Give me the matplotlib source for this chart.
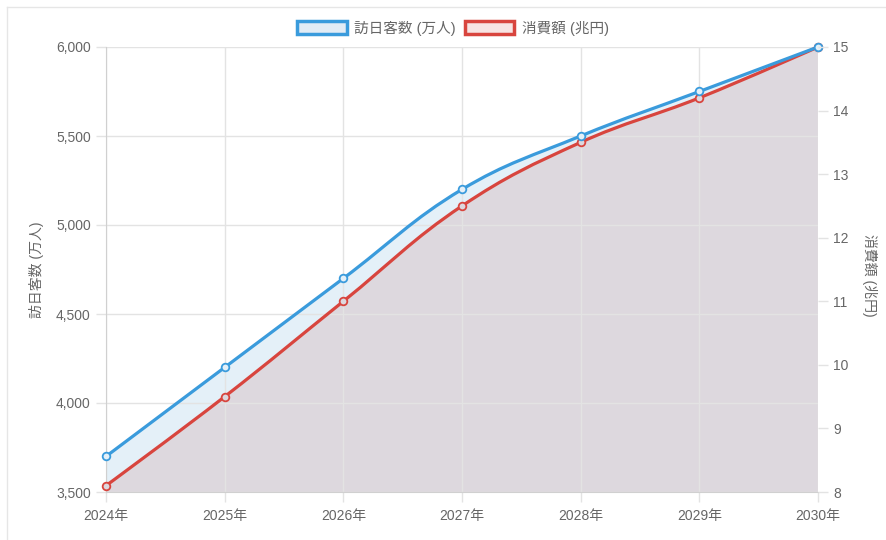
import numpy as np
import matplotlib
matplotlib.use("Agg")
import matplotlib.pyplot as plt
from matplotlib.path import Path
from matplotlib.patches import PathPatch, Patch
from matplotlib.lines import Line2D

plt.rcParams['font.family'] = ['Liberation Sans', 'Noto Sans CJK JP', 'DejaVu Sans']

years = ["2024年", "2025年", "2026年", "2027年", "2028年", "2029年", "2030年"]
visitors = [3700, 4200, 4700, 5200, 5500, 5750, 6000]          # 万人 (left axis)
spending = [8.1, 9.5, 11.0, 12.5, 13.5, 14.2, 15.0]            # 兆円 (right axis)
label_visitors = "訪日客数 (万人)"
label_spending = "消費額 (兆円)"
left_ticks = [3500, 4000, 4500, 5000, 5500, 6000]
right_ticks = [8, 9, 10, 11, 12, 13, 14, 15]

BLUE = "#3a9bdc"
RED = "#d8453e"
BLUE_FILL = "#e4f0f8"
RED_FILL = "#ddd8de"
GRID = "#e3e3e3"
TXT = "#666666"
FS = 10

W, H = 886, 540
fig = plt.figure(figsize=(W / 100, H / 100), dpi=100)
L, R, T, B = 106, 818, 47, 492
ax = fig.add_axes([L / W, 1 - B / H, (R - L) / W, (B - T) / H])
ax2 = ax.twinx()

x = np.arange(len(years))
ax.set_xlim(0, len(years) - 1)
ax.set_ylim(3500, 6000)
ax2.set_ylim(8, 15)

pw, ph = R - L, B - T


def bezier_path(xs, ys, ylo, yhi, close_bottom=False, tension=0.4):
    # Chart.js style spline, computed in pixel-scaled space
    px = np.asarray(xs, float) / (len(xs) - 1) * pw
    py = (np.asarray(ys, float) - ylo) / (yhi - ylo) * ph
    n = len(px)
    cps = []
    for i in range(n):
        cx, cy = px[i], py[i]
        if i == 0 or i == n - 1:
            cps.append(((cx, cy), (cx, cy)))
            continue
        pxp, pyp = px[i - 1], py[i - 1]
        pxn, pyn = px[i + 1], py[i + 1]
        d01 = np.hypot(cx - pxp, cy - pyp)
        d12 = np.hypot(pxn - cx, pyn - cy)
        s01 = d01 / (d01 + d12)
        s12 = d12 / (d01 + d12)
        fa, fb = tension * s01, tension * s12
        c1 = (cx - fa * (pxn - pxp), cy - fa * (pyn - pyp))
        c2 = (cx + fb * (pxn - pxp), cy + fb * (pyn - pyp))
        cps.append((c1, c2))

    def back(p):
        return (p[0] / pw * (len(xs) - 1), p[1] / ph * (yhi - ylo) + ylo)

    verts = [back((px[0], py[0]))]
    codes = [Path.MOVETO]
    for i in range(n - 1):
        verts += [back(cps[i][1]), back(cps[i + 1][0]), back((px[i + 1], py[i + 1]))]
        codes += [Path.CURVE4] * 3
    if close_bottom:
        verts += [(xs[-1], ylo), (xs[0], ylo), verts[0]]
        codes += [Path.LINETO, Path.LINETO, Path.CLOSEPOLY]
    return Path(verts, codes)


# fills
ax.add_patch(PathPatch(bezier_path(x, visitors, 3500, 6000, True), facecolor=BLUE_FILL,
                       edgecolor="none", zorder=1))
ax.add_patch(PathPatch(bezier_path(x, spending, 8, 15, True), facecolor=RED_FILL,
                       edgecolor="none", zorder=1.1, transform=ax2.transData))

# grid (drawn above fills)
for xi in x:
    ax.axvline(xi, color=GRID, lw=1, zorder=1.5)
for yv in left_ticks:
    ax.axhline(yv, color=GRID, lw=1, zorder=1.5)

# lines
ax.add_patch(PathPatch(bezier_path(x, spending, 8, 15), facecolor="none", edgecolor=RED,
                       lw=2.3, zorder=3, transform=ax2.transData, capstyle="round"))
ax.add_patch(PathPatch(bezier_path(x, visitors, 3500, 6000), facecolor="none", edgecolor=BLUE,
                       lw=2.3, zorder=3.2, capstyle="round"))
ax.plot(x, spending, linestyle="none", marker="o", ms=5.5, mfc=RED_FILL, mec=RED, mew=1.3,
        zorder=4, transform=ax2.transData, clip_on=False)
ax.plot(x, visitors, linestyle="none", marker="o", ms=5.5, mfc=BLUE_FILL, mec=BLUE, mew=1.3,
        zorder=4.2, clip_on=False)

# axes styling
ax.set_facecolor("white")
for s in ["top", "right"]:
    ax.spines[s].set_visible(False)
    ax2.spines[s].set_visible(False)
ax2.spines["left"].set_visible(False)
ax2.spines["bottom"].set_visible(False)
ax.spines["left"].set_color("#d0d0d0")
ax.spines["bottom"].set_color("#d0d0d0")

ax.set_xticks(x)
ax.set_xticklabels(years)
ax.set_yticks(left_ticks)
ax.set_yticklabels([f"{v:,}" for v in left_ticks])
ax2.set_yticks(right_ticks)
ax2.set_yticklabels([str(v) for v in right_ticks])
ax.tick_params(axis="both", colors=GRID, labelcolor=TXT, labelsize=FS, length=7, width=1)
ax.tick_params(axis="x", pad=5)
ax.tick_params(axis="y", pad=4)
ax2.tick_params(axis="y", colors=GRID, labelcolor=TXT, labelsize=FS, length=7, width=1, pad=4)

fig.text(37 / W, 1 - 270 / H, label_visitors, rotation=90, ha="center", va="center",
         fontsize=FS, color=TXT)
fig.text(869 / W, 1 - 275 / H, label_spending, rotation=-90, ha="center", va="center",
         fontsize=FS, color=TXT)

handles = [Patch(facecolor="#e2ecf5", edgecolor=BLUE, lw=2.5),
           Patch(facecolor="#f7e4e3", edgecolor=RED, lw=2.5)]
fig.legend(handles, [label_visitors, label_spending], loc="center", ncol=2,
           bbox_to_anchor=(453 / W, 1 - 28 / H), frameon=False, fontsize=10.5,
           labelcolor=TXT, handlelength=3.4, handleheight=1.0, handletextpad=0.5,
           columnspacing=0.6)

# card border
fig.add_artist(Line2D([7 / W, 1], [1 - 7 / H, 1 - 7 / H], color="#e6e6e6", lw=1))
fig.add_artist(Line2D([7 / W, 7 / W], [0, 1 - 7 / H], color="#e6e6e6", lw=1))

fig.savefig("out.png", dpi=100)
